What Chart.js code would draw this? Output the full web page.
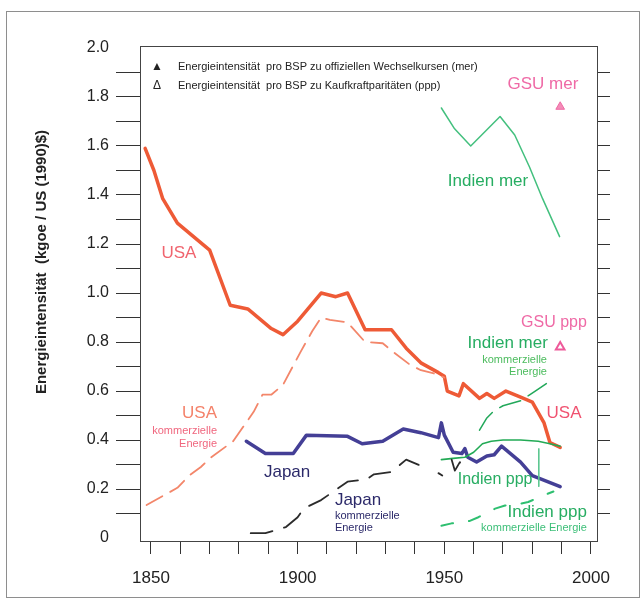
<!DOCTYPE html>
<html>
<head>
<meta charset="utf-8">
<script src="https://cdn.jsdelivr.net/npm/chart.js@4/dist/chart.umd.min.js"></script>
<style>
  html, body { margin: 0; padding: 0; background: #fff; }
</style>
</head>
<body>
<canvas id="chart" width="641" height="603"></canvas>
<script>
// Werte (Jahr / kgoe pro US (1990)$)
const usaYears = [1848, 1851, 1854, 1859, 1865, 1870, 1877, 1883, 1891, 1895, 1900, 1908, 1913, 1917, 1923, 1932, 1937, 1942, 1948, 1950, 1951, 1955, 1956.5, 1962, 1964.5, 1967, 1971, 1976, 1980, 1984, 1986, 1989.5];
const usaValues = [1.59, 1.50, 1.385, 1.285, 1.225, 1.175, 0.95, 0.935, 0.855, 0.83, 0.885, 1.0, 0.985, 1.0, 0.85, 0.85, 0.775, 0.715, 0.675, 0.66, 0.60, 0.58, 0.63, 0.57, 0.59, 0.57, 0.60, 0.575, 0.555, 0.47, 0.39, 0.37];

const usaKommYears = [1848.5, 1859, 1863, 1867, 1870, 1878, 1885, 1888, 1891, 1895, 1901, 1905, 1908, 1911, 1917, 1923, 1929, 1932, 1938, 1942, 1947, 1950];
const usaKommValues = [0.135, 0.205, 0.255, 0.29, 0.325, 0.395, 0.515, 0.585, 0.585, 0.625, 0.76, 0.845, 0.90, 0.89, 0.88, 0.80, 0.795, 0.765, 0.71, 0.685, 0.67, 0.655];

const japanYears = [1882.5, 1889, 1898.5, 1903, 1917, 1922, 1929, 1936, 1942, 1948, 1949, 1950, 1953, 1956, 1957, 1958, 1961, 1964.5, 1967, 1969.5, 1976, 1980, 1989.5];
const japanValues = [0.395, 0.345, 0.345, 0.42, 0.415, 0.385, 0.395, 0.445, 0.43, 0.41, 0.47, 0.42, 0.35, 0.345, 0.365, 0.33, 0.31, 0.335, 0.34, 0.375, 0.31, 0.255, 0.21];

// null = Lücke in der Kurve
const japanKommYears = [1884, 1889, 1896, 1900, 1902, 1908, 1917, 1923.5, 1926, 1932, 1937, 1942, 1945, 1948, 1949.3, 1951, 1952.5, 1953.6, 1955.3, 1956];
const japanKommValues = [0.02, 0.02, 0.045, 0.085, 0.12, 0.155, 0.23, 0.24, 0.26, 0.27, 0.32, 0.295, null, 0.265, 0.255, null, 0.32, 0.275, 0.31, 0.29];

const indienMerYears = [1949, 1953.5, 1959, 1964, 1969, 1974, 1979, 1983.5, 1989.3];
const indienMerValues = [1.755, 1.67, 1.6, 1.66, 1.72, 1.645, 1.515, 1.385, 1.23];

const indienMerKommYears = [1962, 1964.5, 1967, 1970, 1976, 1981, 1986];
const indienMerKommValues = [0.44, 0.49, 0.52, 0.54, 0.56, 0.60, 0.64];

const indienPppYears = [1949, 1953, 1957, 1960, 1963, 1966, 1970, 1976, 1982, 1986, 1989.5];
const indienPppValues = [0.32, 0.325, 0.33, 0.35, 0.385, 0.395, 0.40, 0.40, 0.395, 0.385, 0.375];

const indienPppKommYears = [1949, 1952.5, 1958.7, 1961.6, 1967.3, 1970.7, 1975.8, 1978.6, 1983.8, 1987.2];
const indienPppKommValues = [0.05, 0.06, 0.07, 0.085, 0.12, 0.133, 0.14, 0.147, 0.174, 0.19];

const gsuYears = [1989.5];
const gsuMerValues = [1.76];
const gsuPppValues = [0.78];

// senkrechter Hinweisstrich bei Indien ppp
const pointerYears = [1982.2, 1982.2];
const pointerValues = [0.365, 0.21];

// Achsenbeschriftung
const xTickYears = [1850, 1860, 1870, 1880, 1890, 1900, 1910, 1920, 1930, 1940, 1950, 1960, 1970, 1980, 1990, 2000];
const xTickLabels = { 1850: '1850', 1900: '1900', 1950: '1950', 2000: '2000' };
const yTickValues = [0, 0.1, 0.2, 0.3, 0.4, 0.5, 0.6, 0.7, 0.8, 0.9, 1.0, 1.1, 1.2, 1.3, 1.4, 1.5, 1.6, 1.7, 1.8, 1.9, 2.0];
const yTickLabels = { 0: '0', 0.2: '0.2', 0.4: '0.4', 0.6: '0.6', 0.8: '0.8', 1: '1.0', 1.2: '1.2', 1.4: '1.4', 1.6: '1.6', 1.8: '1.8', 2: '2.0' };

const yTitle = 'Energieintensität  (kgoe / US (1990)$)';
const legendLines = [
  { mark: '▲', text: 'Energieintensität  pro BSP zu offiziellen Wechselkursen (mer)' },
  { mark: 'Δ', text: 'Energieintensität  pro BSP zu Kaufkraftparitäten (ppp)' }
];

const FONT = "'Liberation Sans', Arial, Helvetica, sans-serif";
const RED = '#ee5a36';
const NAVY = '#2c2a6a';
const GREEN = '#27ad62';
const PINK = '#ef6aa6';

// Beschriftungen im Diagramm (Lage in Jahr / Wert)
const notes = [
  { text: 'GSU mer', x: 1983.6, y: 1.85, align: 'center', size: 17, color: PINK },
  { text: 'Indien mer', x: 1964.9, y: 1.457, align: 'center', size: 17, color: GREEN },
  { text: 'USA', x: 1859.5, y: 1.163, align: 'center', size: 17, color: '#f0646e' },
  { text: 'GSU ppp', x: 1998.6, y: 0.878, align: 'right', size: 16, color: PINK },
  { text: 'Indien mer', x: 1985.3, y: 0.796, align: 'right', size: 17, color: GREEN },
  { text: 'kommerzielle', x: 1985.0, y: 0.727, align: 'right', size: 11, color: '#4cbc5e' },
  { text: 'Energie', x: 1985.0, y: 0.678, align: 'right', size: 11, color: '#4cbc5e' },
  { text: 'USA', x: 1990.8, y: 0.51, align: 'center', size: 17, color: '#f05270' },
  { text: 'Indien ppp', x: 1967.3, y: 0.237, align: 'center', size: 16, color: GREEN },
  { text: 'Indien ppp', x: 1998.6, y: 0.106, align: 'right', size: 17, color: GREEN },
  { text: 'kommerzielle Energie', x: 1998.6, y: 0.041, align: 'right', size: 11, color: '#3cbf78' },
  { text: 'USA', x: 1872.5, y: 0.51, align: 'right', size: 17, color: '#f4826a' },
  { text: 'kommerzielle', x: 1872.5, y: 0.437, align: 'right', size: 11, color: '#f0667e' },
  { text: 'Energie', x: 1872.5, y: 0.384, align: 'right', size: 11, color: '#f0667e' },
  { text: 'Japan', x: 1896.4, y: 0.269, align: 'center', size: 17, color: NAVY },
  { text: 'Japan', x: 1912.7, y: 0.155, align: 'left', size: 17, color: NAVY },
  { text: 'kommerzielle', x: 1912.7, y: 0.09, align: 'left', size: 11, color: NAVY },
  { text: 'Energie', x: 1912.7, y: 0.041, align: 'left', size: 11, color: NAVY }
];

function series(years, values) {
  return years.map((year, i) => ({ x: year, y: values[i] }));
}

function line(data, color, width, dash) {
  return {
    data: data,
    borderColor: color,
    borderWidth: width,
    borderDash: dash || [],
    pointRadius: 0,
    tension: 0,
    spanGaps: false,
    borderJoinStyle: 'round',
    borderCapStyle: 'round',
    fill: false
  };
}

// Rahmen, Titel, Legende und Beschriftungen
const decorations = {
  id: 'decorations',
  beforeDraw(chart) {
    const ctx = chart.ctx;
    ctx.save();
    ctx.fillStyle = '#fff';
    ctx.fillRect(0, 0, chart.width, chart.height);
    ctx.strokeStyle = '#8e8e8e';
    ctx.lineWidth = 1;
    ctx.strokeRect(6.5, 11.5, 633, 586);
    ctx.restore();
  },
  afterDraw(chart) {
    const ctx = chart.ctx;
    const area = chart.chartArea;
    const xs = chart.scales.x;
    const ys = chart.scales.y;
    ctx.save();

    // obere Kante des Kastens
    ctx.strokeStyle = '#444';
    ctx.lineWidth = 1;
    ctx.beginPath();
    ctx.moveTo(area.left, area.top + 0.5);
    ctx.lineTo(area.right, area.top + 0.5);
    ctx.stroke();

    // y-Titel
    ctx.save();
    ctx.translate(42, 262);
    ctx.rotate(-Math.PI / 2);
    ctx.fillStyle = '#222';
    ctx.font = 'bold 15px ' + FONT;
    ctx.textAlign = 'center';
    ctx.textBaseline = 'middle';
    ctx.fillText(yTitle, 0, 0);
    ctx.restore();

    // Legende
    ctx.fillStyle = '#222';
    ctx.textBaseline = 'middle';
    legendLines.forEach(function(item, i) {
      const y = area.top + 21 + i * 19;
      ctx.font = '12px ' + FONT;
      ctx.textAlign = 'center';
      ctx.fillText(item.mark, area.left + 17, y);
      ctx.font = '11px ' + FONT;
      ctx.textAlign = 'left';
      ctx.fillText(item.text, area.left + 38, y);
    });

    // Beschriftungen an den Kurven
    notes.forEach(function(n) {
      ctx.font = n.size + 'px ' + FONT;
      ctx.fillStyle = n.color;
      ctx.textAlign = n.align;
      ctx.textBaseline = 'middle';
      ctx.fillText(n.text, xs.getPixelForValue(n.x), ys.getPixelForValue(n.y));
    });
    ctx.restore();
  }
};

const Y_MIN = -0.012;
const Y_MAX = 2.008;

function hideEnds(ctx) {
  const v = ctx.tick ? ctx.tick.value : null;
  return (v === 0 || v === 2) ? 'rgba(0,0,0,0)' : '#333';
}

new Chart(document.getElementById('chart'), {
  type: 'line',
  data: {
    datasets: [
      line(series(usaKommYears, usaKommValues), '#f3866a', 1.8, [18, 9]),
      line(series(japanKommYears, japanKommValues), '#2b2b2b', 1.8, [22, 12]),
      line(series(indienMerYears, indienMerValues), '#43c07e', 1.5),
      line(series(indienMerKommYears, indienMerKommValues), '#22a85a', 1.5, [22, 9]),
      line(series(indienPppKommYears, indienPppKommValues), '#2ebf70', 2, [12, 16]),
      line(series(pointerYears, pointerValues), '#5cc690', 1),
      line(series(indienPppYears, indienPppValues), '#22aa55', 1.6),
      line(series(usaYears, usaValues), RED, 3.5),
      line(series(japanYears, japanValues), '#443f96', 3.5),
      {
        type: 'scatter',
        data: series(gsuYears, gsuMerValues),
        pointStyle: 'triangle',
        pointRadius: 5,
        backgroundColor: '#f48cb8',
        borderColor: '#ee6aa4',
        borderWidth: 1
      },
      {
        type: 'scatter',
        data: series(gsuYears, gsuPppValues),
        pointStyle: 'triangle',
        pointRadius: 5,
        backgroundColor: 'rgba(255,255,255,0)',
        borderColor: '#ee5a9a',
        borderWidth: 2
      }
    ]
  },
  options: {
    responsive: false,
    animation: false,
    layout: { padding: { top: 46, left: 0, right: 0, bottom: 0 } },
    plugins: {
      legend: { display: false },
      tooltip: { enabled: false }
    },
    scales: {
      x: {
        type: 'linear',
        min: 1846.25,
        max: 2002.05,
        afterBuildTicks(axis) {
          axis.ticks = xTickYears.map(v => ({ value: v }));
        },
        afterFit(axis) { axis.height = 62; },
        ticks: {
          autoSkip: false,
          maxRotation: 0,
          padding: 14,
          color: '#222',
          font: { family: FONT, size: 17 },
          callback: v => xTickLabels[v] || ''
        },
        grid: { drawOnChartArea: false, tickLength: 13, color: '#333', tickColor: '#333' },
        border: { color: '#444', width: 1 }
      },
      y: {
        type: 'linear',
        position: 'left',
        min: Y_MIN,
        max: Y_MAX,
        afterBuildTicks(axis) {
          axis.ticks = yTickValues.map(v => ({ value: v }));
        },
        afterFit(axis) { axis.width = 140; },
        ticks: {
          autoSkip: false,
          padding: 7,
          color: '#222',
          font: { family: FONT, size: 16 },
          callback: v => yTickLabels[Math.round(v * 10) / 10] || ''
        },
        grid: { drawOnChartArea: false, tickLength: 24, color: hideEnds, tickColor: hideEnds },
        border: { color: '#444', width: 1 }
      },
      y2: {
        type: 'linear',
        position: 'right',
        min: Y_MIN,
        max: Y_MAX,
        afterBuildTicks(axis) {
          axis.ticks = yTickValues.map(v => ({ value: v }));
        },
        afterFit(axis) { axis.width = 44; },
        ticks: { autoSkip: false, callback: () => '' },
        grid: { drawOnChartArea: false, tickLength: 13, color: hideEnds, tickColor: hideEnds },
        border: { color: '#444', width: 1 }
      }
    }
  },
  plugins: [decorations]
});
</script>
</body>
</html>
